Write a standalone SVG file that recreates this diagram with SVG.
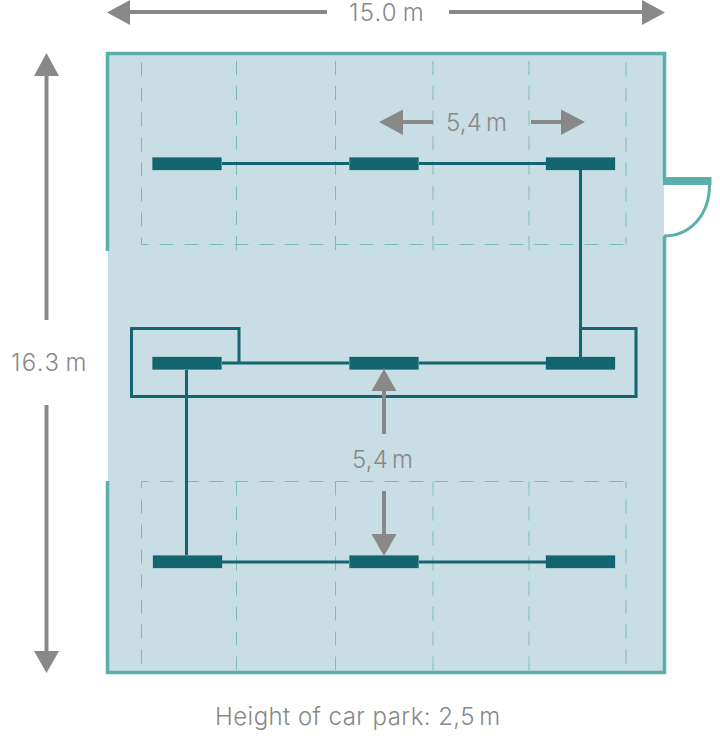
<svg xmlns="http://www.w3.org/2000/svg" width="720" height="740" viewBox="0 0 720 740">
<style>
.wall{fill:none;stroke:#5bafab;stroke-width:3.500}
.dash{fill:none;stroke:#7cbcb8;stroke-width:1;stroke-dasharray:14 11}
.beam{fill:#136570;stroke:#136570;stroke-width:.5;stroke-opacity:.5}
.conn{fill:none;stroke:#136570;stroke-width:3}
.dim{fill:none;stroke:#888888;stroke-width:4}
.head{fill:#888888}
text{font-family:"Inter","Liberation Sans",sans-serif;font-weight:300;font-size:24px;fill:#888888}
.unit{word-spacing:-3px}
</style>
<g id="floor">
<rect x="108" y="54" width="556" height="618" fill="#c9dde4"/>
<path class="wall" d="M107.500 251V53.500H664.500V180M664.500 236V672.500H107.500V481"/>
</g>
<g id="parking-grid">
<g class="dash">
<path d="M141.500 244.500V55" stroke-dashoffset="7"/><path d="M236.500 250V55"/><path d="M335.500 250V55"/><path d="M433 250V55"/><path d="M529 250V55"/><path d="M626 244.500V55" stroke-dashoffset="7"/>
<path d="M141.500 244.500H626" stroke-dashoffset="7"/>
<path d="M141.500 481.500V671" stroke-dashoffset="7"/><path d="M236.500 481.500V671"/><path d="M335.500 481.500V671"/><path d="M433 481.500V671"/><path d="M529 481.500V671"/><path d="M626 481.500V671" stroke-dashoffset="7"/>
<path d="M141.500 481.500H626" stroke-dashoffset="7"/>
</g>
</g>
<g id="door">
<rect x="663" y="177" width="48.500" height="8" fill="#5bafab"/>
<path d="M709.500 185C709.500 215 690 236 664 236" fill="none" stroke="#5bafab" stroke-width="3"/>
</g>
<g id="connectors">
<path class="conn" d="M222 163.500H349M419 163.500H546M580.500 170V357"/>
<path class="conn" d="M222 363H349M419 363H546M239 363V328.500H131.500V396.500H636V328.500H580.500"/>
<path class="conn" d="M186.500 370V555M222 562H349M419 562H546"/>
</g>
<g id="beam-1-1"><rect class="beam" x="152.500" y="157.500" width="69" height="12.500"/></g>
<g id="beam-1-2"><rect class="beam" x="349.500" y="157.500" width="69" height="12.500"/></g>
<g id="beam-1-3"><rect class="beam" x="546" y="157.500" width="69" height="12.500"/></g>
<g id="beam-2-1"><rect class="beam" x="152.500" y="357" width="69" height="12.500"/></g>
<g id="beam-2-2"><rect class="beam" x="349.500" y="357" width="69" height="12.500"/></g>
<g id="beam-2-3"><rect class="beam" x="546" y="357" width="69" height="12.500"/></g>
<g id="beam-3-1"><rect class="beam" x="153" y="555.500" width="69" height="12.500"/></g>
<g id="beam-3-2"><rect class="beam" x="349.500" y="555.500" width="69" height="12.500"/></g>
<g id="beam-3-3"><rect class="beam" x="546" y="555.500" width="69" height="12.500"/></g>
<g id="dim-width">
<path class="dim" d="M128 12H327M449 12H644"/>
<path class="head" d="M107 12.500L130 0V25ZM665 12.500L642 0V25Z"/>
<text class="unit" x="349" y="21" letter-spacing="1.200">15.0 m</text>
</g>
<g id="dim-height">
<path class="dim" d="M46.500 74V320M46.500 405V652"/>
<path class="head" d="M46.500 53L59 76H34ZM46.500 673L34 651H59Z"/>
<text class="unit" x="11" y="370.500" letter-spacing="1.400">16.3 m</text>
</g>
<g id="dim-span-h">
<path class="dim" d="M401 122H433M531 122H563"/>
<path class="head" d="M379 122L403 109.500V135ZM585 122L561 109.500V135Z"/>
<text class="unit" x="446" y="130.500" letter-spacing=".2">5,4 m</text>
</g>
<g id="dim-span-v">
<path class="dim" d="M384 389V434M384 491V536"/>
<path class="head" d="M384 369L396.500 391H371.500ZM384 556L371.500 534H396.500Z"/>
<text class="unit" x="352" y="468" letter-spacing=".2">5,4 m</text>
</g>
<g id="note"><text x="215" y="724.500" letter-spacing=".45">Height of car park: 2,5<tspan class="unit"> m</tspan></text></g>
</svg>
